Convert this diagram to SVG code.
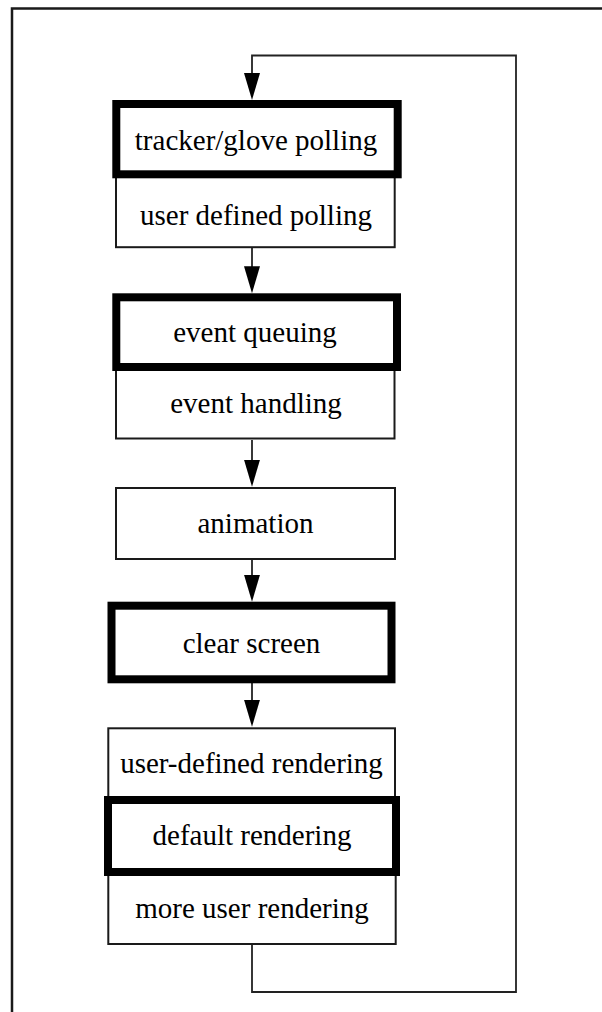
<svg xmlns="http://www.w3.org/2000/svg" width="602" height="1012" viewBox="0 0 602 1012">
  <style>
    .thin { fill: #fff; stroke: #1a1a1a; stroke-width: 2; }
    .thick { fill: none; stroke: #000; stroke-width: 8; }
    .label { font-family: "Liberation Serif", "Times New Roman", serif; font-size: 29px; fill: #000; text-anchor: middle; }
    .wire { fill: none; stroke: #222; stroke-width: 1.8; }
    .arrowed { marker-end: url(#arrow); }
  </style>
  <defs>
    <!-- solid triangular head, 27 long and 16 wide; the wire stops 5px short of the tip -->
    <marker id="arrow" viewBox="0 0 27 16" refX="22" refY="8" markerWidth="27" markerHeight="16" markerUnits="userSpaceOnUse" orient="auto">
      <path d="M0,0 L27,8 L0,16 Z" fill="#000"/>
    </marker>
  </defs>
  <rect width="602" height="1012" fill="#fff"/>
  <!-- outer frame, running off the right and bottom edges -->
  <rect x="12" y="8.5" width="700" height="1100" fill="none" stroke="#1a1a1a" stroke-width="2.5"/>

  <g id="connectors">
    <path class="wire arrowed" d="M252,248 V288.3"/>
    <path class="wire arrowed" d="M252,440 V481.7"/>
    <path class="wire arrowed" d="M252,560 V596.7"/>
    <path class="wire arrowed" d="M252,683 V721.7"/>
    <!-- loop back to the top -->
    <path class="wire arrowed" d="M252,945 V992 H516 V55.5 H252 V95"/>
  </g>

  <g id="user-defined-polling">
    <rect class="thin" x="116" y="174" width="278.7" height="73.2"/>
    <text class="label" x="256" y="225">user defined polling</text>
  </g>
  <g id="tracker-glove-polling">
    <rect x="116.3" y="104" width="281.4" height="70.3" fill="#fff"/>
    <rect class="thick" x="116.3" y="104" width="281.4" height="70.3"/>
    <text class="label" x="256" y="150">tracker/glove polling</text>
  </g>

  <g id="event-handling">
    <rect class="thin" x="116" y="367" width="278.5" height="71.5"/>
    <text class="label" x="256" y="413.3">event handling</text>
  </g>
  <g id="event-queuing">
    <rect x="116.3" y="297.3" width="280.7" height="69.7" fill="#fff"/>
    <rect class="thick" x="116.3" y="297.3" width="280.7" height="69.7"/>
    <text class="label" x="255" y="341.7">event queuing</text>
  </g>

  <g id="animation">
    <rect class="thin" x="116" y="488" width="279" height="71"/>
    <text class="label" x="255.5" y="533.3">animation</text>
  </g>

  <g id="clear-screen">
    <rect x="111.5" y="605.7" width="280" height="73.6" fill="#fff"/>
    <rect class="thick" x="111.5" y="605.7" width="280" height="73.6"/>
    <text class="label" x="251.5" y="653.3">clear screen</text>
  </g>

  <g id="user-defined-rendering">
    <rect class="thin" x="108.3" y="728.3" width="286.7" height="72"/>
    <text class="label" x="251.5" y="773.3">user-defined rendering</text>
  </g>
  <g id="more-user-rendering">
    <rect class="thin" x="108.3" y="872" width="287.4" height="72"/>
    <text class="label" x="252" y="918.3">more user rendering</text>
  </g>
  <g id="default-rendering">
    <rect x="108" y="800" width="288" height="72" fill="#fff"/>
    <rect class="thick" x="108" y="800" width="288" height="72"/>
    <text class="label" x="252" y="845">default rendering</text>
  </g>
</svg>
